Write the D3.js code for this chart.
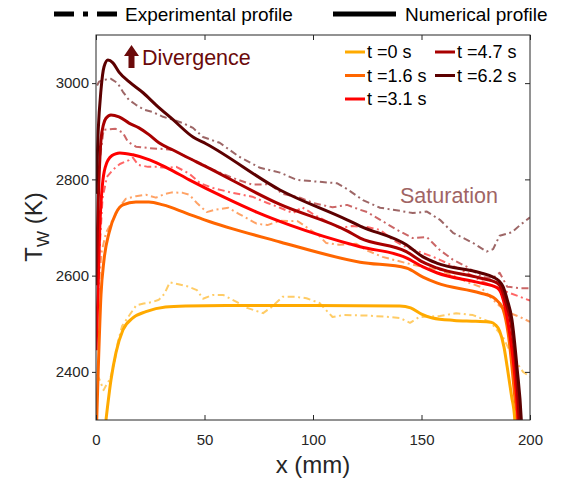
<!DOCTYPE html>
<html>
<head>
<meta charset="utf-8">
<script src="https://cdn.jsdelivr.net/npm/d3@7"></script>
<style>
  html, body { margin: 0; padding: 0; background: #fff; }
  svg { display: block; font-family: "Liberation Sans", Arial, sans-serif; }
</style>
</head>
<body>
<svg id="chart" width="561" height="482"></svg>
<script>
// ---------- DATA ----------
const seriesLabels = ["t =0 s", "t =1.6 s", "t =3.1 s", "t =4.7 s", "t =6.2 s"];
const seriesColors = ["#FFAA00", "#FF6600", "#FF0000", "#A80000", "#5C0000"];
const xTicks = [0, 50, 100, 150, 200];
const yTicks = [2400, 2600, 2800, 3000];

// Numerical profiles [x (mm), T (K)]
const num0 = [[4.6,2300],[6.9,2383],[9.2,2440],[12.4,2487],[17,2512],[23,2525],[32,2535],[41.5,2537],[60,2538],[100,2538],[140,2537],[145,2533],[150,2520],[155,2512],[165,2507],[175,2505],[182,2503],[184,2498],[186,2485],[188,2452],[189.5,2410],[191.5,2350],[193,2300],[193.5,2260]];
const num16 = [[0,2250],[1,2400],[2.3,2560],[3.7,2633],[6,2689],[9.2,2730],[12.4,2747],[18.4,2753],[24.4,2753],[30.9,2747],[41.5,2730],[50,2716],[84.8,2670],[121.7,2628],[143,2616],[150.7,2597],[157,2585],[177,2564],[183,2555],[185.5,2545],[187.6,2530],[189.9,2481],[191.7,2410],[193,2348],[194.2,2300],[194.6,2250]];
const num31 = [[0,2445],[0.9,2560],[1.6,2680],[3.2,2799],[5,2835],[6.5,2846],[9,2853],[11,2855],[17,2851],[25,2840],[32.7,2824],[43,2799],[58.5,2764],[74,2732],[89.4,2705],[121.7,2660],[143,2637],[150.7,2618],[157,2606],[177,2585],[184.8,2575],[187,2560],[188.5,2535],[190.4,2487],[192.6,2410],[194.5,2300],[195,2250]];
const num47 = [[0,2580],[1,2750],[2.3,2882],[3.5,2915],[4.6,2927],[6.9,2934],[10.6,2930],[15.2,2917],[19.8,2907],[24.4,2893],[29,2876],[35.5,2861],[41.5,2847],[50,2828],[84.8,2748],[115.7,2693],[121.7,2678],[143,2650],[150.7,2628],[157,2616],[177,2595],[184.8,2585],[187,2572],[188.5,2550],[191.7,2487],[193.5,2410],[195,2300],[195.5,2250]];
const num62 = [[0,2770],[1,2900],[2.3,2986],[3.7,3034],[5.5,3048],[7.8,3042],[10.6,3023],[15.2,3003],[21.7,2980],[27.6,2955],[35.5,2924],[44.7,2888],[50.7,2874],[84.8,2778],[115.7,2716],[121.7,2703],[143,2664],[150.7,2639],[157,2626],[177,2606],[183,2597],[185.5,2590],[187.6,2577],[189.5,2550],[191.7,2508],[194,2410],[196,2300],[196.5,2250]];

// Experimental profiles [x (mm), T (K)]
const exp0 = [[0.5,2395],[2,2380],[3.5,2362],[5,2375],[6.5,2385],[8.5,2420],[10,2460],[12,2495],[14.5,2512],[18.5,2538],[22,2542],[26,2545],[29,2550],[31.5,2562],[34,2586],[38,2582],[42,2578],[46.5,2570],[49.3,2552],[54,2560],[58.5,2560],[65,2545],[69.6,2533],[77,2522],[81,2535],[86,2556],[92,2556],[97,2553],[103,2543],[109,2514],[114,2518],[125,2517],[135.5,2514],[140,2512],[144.7,2502],[149,2514],[158.5,2516],[166,2522],[173.7,2518],[181.6,2504],[187.6,2472],[192,2431],[196.8,2400],[200,2390]];
const exp16 = [[1,2560],[2.5,2647],[4.6,2689],[7.8,2716],[10.6,2741],[13.8,2760],[18.4,2765],[23,2768],[27.6,2762],[32,2770],[35,2773],[40,2772],[43,2768],[46.5,2751],[51,2732],[55,2737],[61,2741],[66,2728],[74,2708],[79,2705],[84.8,2714],[93,2713],[103,2682],[106,2668],[112,2664],[120,2666],[125,2652],[132,2639],[143,2626],[150.7,2618],[158.5,2612],[166,2597],[172,2585],[177,2577],[181.6,2556],[186,2537],[190.8,2522],[195.4,2514],[200,2504]];
const exp31 = [[1.5,2640],[3,2760],[5,2805],[7.8,2820],[11,2832],[15.2,2840],[17,2845],[19.5,2830],[24,2826],[28,2826],[33,2824],[37,2826],[43,2812],[48,2792],[54,2782],[63,2772],[72,2764],[79,2751],[84.8,2741],[90.8,2730],[95,2742],[100,2728],[106.5,2712],[112.4,2699],[118,2703],[124.9,2701],[130.9,2695],[136.9,2674],[143.3,2658],[149.3,2649],[155.3,2639],[161.8,2626],[171,2606],[177,2590],[183,2578],[189.4,2566],[195.4,2556],[200,2548]];
const exp47 = [[2,2850],[3.5,2903],[9,2905],[12.4,2897],[14.7,2878],[18.4,2868],[24.4,2865],[31,2863],[35.5,2861],[41.5,2847],[47.5,2835],[54,2820],[63,2803],[72,2789],[80,2790],[86,2770],[94,2762],[100,2751],[109,2742],[115.7,2747],[121,2738],[125,2732],[131,2716],[138.7,2695],[146,2678],[152.5,2680],[158.5,2653],[164.5,2633],[171,2618],[178,2597],[183,2595],[186,2606],[189.5,2577],[195.4,2574],[200,2574]];
const exp62 = [[0.5,2995],[1.4,3003],[3.7,3007],[6.9,3009],[10,3000],[12.4,2982],[15.2,2965],[18.4,2955],[22,2945],[26,2940],[30.9,2930],[35.5,2924],[40,2917],[44.7,2907],[49.3,2888],[57,2876],[66,2847],[75.6,2824],[84.8,2814],[92.6,2799],[100,2796],[111,2792],[115.7,2780],[123,2757],[130.9,2741],[136.9,2737],[146,2730],[152.5,2733],[158.5,2716],[164.5,2689],[173.7,2668],[180,2650],[183,2655],[186,2683],[191.7,2690],[195.4,2705],[200,2721]];

const numSeries = [num0, num16, num31, num47, num62];
const expSeries = [exp0, exp16, exp31, exp47, exp62];

// ---------- LAYOUT ----------
const svg = d3.select("#chart");
const L = 96, R = 530, T = 35, B = 420;
const x = d3.scaleLinear().domain([0, 200]).range([L, R]);
const y = d3.scaleLinear().domain([2300, 3100]).range([B, T]);
const axisColor = "#262626";

svg.append("defs").append("clipPath").attr("id", "plotclip")
  .append("rect").attr("x", L).attr("y", T).attr("width", R - L).attr("height", B - T);

const plot = svg.append("g").attr("clip-path", "url(#plotclip)");

const lineLinear = d3.line().x(d => x(d[0])).y(d => y(d[1]));
const lineSmooth = d3.line().x(d => x(d[0])).y(d => y(d[1])).curve(d3.curveMonotoneX);

expSeries.forEach((s, i) => {
  plot.append("path").datum(s)
    .attr("d", lineLinear)
    .attr("fill", "none")
    .attr("stroke", seriesColors[i])
    .attr("stroke-opacity", 0.6)
    .attr("stroke-width", 2)
    .attr("stroke-dasharray", "7,3.5,2,3.5")
    .attr("stroke-linejoin", "round");
});

numSeries.forEach((s, i) => {
  plot.append("path").datum(s)
    .attr("d", lineSmooth)
    .attr("fill", "none")
    .attr("stroke", seriesColors[i])
    .attr("stroke-width", 3)
    .attr("stroke-linejoin", "round");
});

// ---------- AXES ----------
const fmt = d3.format("d");
const gx = svg.append("g").attr("transform", `translate(0,${B})`)
  .call(d3.axisBottom(x).tickValues(xTicks).tickFormat(fmt).tickSizeInner(-5).tickSizeOuter(0).tickPadding(14));
const gxTop = svg.append("g").attr("transform", `translate(0,${T})`)
  .call(d3.axisTop(x).tickValues(xTicks).tickSizeInner(-5).tickSizeOuter(0).tickFormat(""));
const gy = svg.append("g").attr("transform", `translate(${L},0)`)
  .call(d3.axisLeft(y).tickValues(yTicks).tickFormat(fmt).tickSizeInner(4).tickSizeOuter(0).tickPadding(3));
const gyR = svg.append("g").attr("transform", `translate(${R},0)`)
  .call(d3.axisRight(y).tickValues(yTicks).tickSizeInner(-5).tickSizeOuter(0).tickFormat(""));

[gx, gxTop, gy, gyR].forEach(g => {
  g.select(".domain").remove();
  g.selectAll("line").attr("stroke", axisColor);
  g.selectAll("text").attr("fill", axisColor).style("font-size", "15px")
    .style("font-family", '"Liberation Sans", Arial, sans-serif');
});

svg.append("rect").attr("x", L).attr("y", T).attr("width", R - L).attr("height", B - T)
  .attr("fill", "none").attr("stroke", axisColor).attr("stroke-width", 1);

// Axis titles
svg.append("text").attr("x", (L + R) / 2).attr("y", 473).attr("text-anchor", "middle")
  .attr("fill", axisColor).style("font-size", "24px").text("x (mm)");

const yt = svg.append("text").attr("transform", "translate(42,227) rotate(-90)")
  .attr("text-anchor", "middle").attr("fill", axisColor).style("font-size", "24px");
yt.append("tspan").text("T");
yt.append("tspan").attr("dy", 7).style("font-size", "17px").text("W");
yt.append("tspan").attr("dy", -7).text(" (K)");

// ---------- TOP LEGEND ----------
svg.append("line").attr("x1", 54).attr("x2", 117).attr("y1", 14).attr("y2", 14)
  .attr("stroke", "#000").attr("stroke-width", 5).attr("stroke-dasharray", "20,9,5,9");
svg.append("text").attr("x", 125).attr("y", 21).style("font-size", "19px").attr("fill", "#000")
  .text("Experimental profile");
svg.append("line").attr("x1", 333).attr("x2", 396).attr("y1", 14).attr("y2", 14)
  .attr("stroke", "#000").attr("stroke-width", 5);
svg.append("text").attr("x", 405).attr("y", 21).style("font-size", "19px").attr("fill", "#000")
  .text("Numerical profile");

// ---------- INNER LEGEND ----------
const legPos = [[345, 58], [345, 81.5], [345, 105], [435, 58], [435, 81.5]];
seriesLabels.forEach((lab, i) => {
  const [lx, ly] = legPos[i];
  svg.append("line").attr("x1", lx).attr("x2", lx + 20).attr("y1", ly - 6).attr("y2", ly - 6)
    .attr("stroke", seriesColors[i]).attr("stroke-width", 3);
  svg.append("text").attr("x", lx + 22).attr("y", ly).style("font-size", "18px")
    .attr("fill", "#000").text(lab);
});

// ---------- ANNOTATIONS ----------
const divColor = "#6B0A0A";
svg.append("path")
  .attr("d", "M131.5,45 L139,56 L134.5,56 L134.5,68 L128.5,68 L128.5,56 L124,56 Z")
  .attr("fill", divColor);
svg.append("text").attr("x", 142).attr("y", 65).style("font-size", "21.5px")
  .attr("fill", divColor).text("Divergence");
svg.append("text").attr("x", 400).attr("y", 203).style("font-size", "21.5px")
  .attr("fill", "#A06464").text("Saturation");
</script>
</body>
</html>
